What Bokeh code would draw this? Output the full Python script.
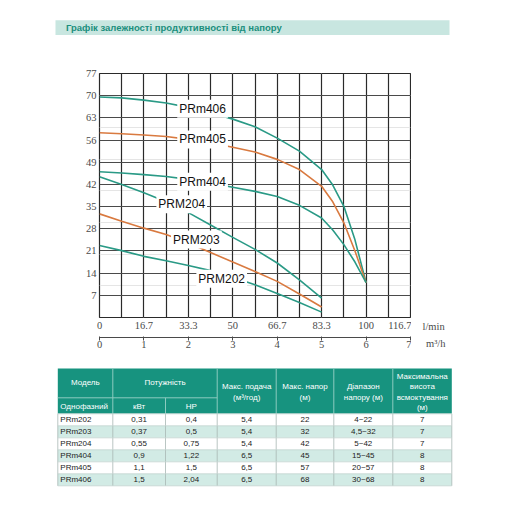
from bokeh.plotting import figure
from bokeh.layouts import column, row
from bokeh.models import Range1d, LinearAxis, FixedTicker, Grid, Label, ColumnDataSource
from bokeh.core.properties import value
from bokeh.embed import file_html
from bokeh.resources import INLINE

# ---------------- data ----------------
TITLE = "Графік залежності продуктивності від напору"

q_long = [0, 0.5, 1, 1.5, 2, 2.5, 3, 3.5, 4, 4.5, 5, 5.25, 5.5, 5.75, 6]
q_short = [0, 0.5, 1, 1.5, 2, 2.5, 3, 3.5, 4, 4.5, 5]

prm406_h = [69.6, 69.3, 68.6, 67.7, 66.3, 64.6, 62.6, 60.2, 56.6, 52.5, 46.7, 41.8, 35.1, 24.5, 11]
prm405_h = [58.3, 58.0, 57.6, 57.1, 56.2, 55.1, 53.7, 52.2, 49.9, 46.7, 41.4, 36.5, 29.9, 21.0, 11]
prm404_h = [46.0, 45.6, 45.1, 44.5, 43.6, 42.4, 41.1, 39.8, 38.2, 35.4, 31.4, 27.6, 23.0, 17.5, 11]
prm204_h = [44.4, 42.0, 39.4, 36.5, 33.1, 29.2, 25.3, 21.5, 17.2, 11.9, 6.1]
prm203_h = [32.7, 30.4, 28.2, 26.2, 23.5, 20.5, 17.5, 14.5, 11.4, 7.4, 3.3]
prm202_h = [22.7, 21.1, 19.3, 17.9, 16.4, 14.8, 12.7, 10.3, 7.6, 4.7, 1.7]

curve_names = ["PRm406", "PRm405", "PRm404", "PRM204", "PRM203", "PRM202"]
label_q = [1.75, 1.75, 1.75, 1.28, 1.61, 2.18]
label_h = [65.9, 56.2, 42.8, 35.7, 24.6, 12.2]

h_ticks = [7, 14, 21, 28, 35, 42, 49, 56, 63, 70, 77]
m3h_ticks = [0, 1, 2, 3, 4, 5, 6, 7]
lmin_labels = ["0", "16.7", "33.3", "50", "66.7", "83.3", "100", "116.7"]
unit_labels = ["l/min", "m³/h"]

# table
table_head = ["Модель", "Потужність", "Макс. подача", "Макс. напор", "Діапазон", "Максимальна"]
models = ["PRm202", "PRm203", "PRm204", "PRm404", "PRm405", "PRm406"]
power_kw = ["0,31", "0,37", "0,55", "0,9", "1,1", "1,5"]
power_hp = ["0,4", "0,5", "0,75", "1,22", "1,5", "2,04"]
max_flow = ["5,4", "5,4", "5,4", "6,5", "6,5", "6,5"]
max_head = ["22", "32", "42", "45", "57", "68"]
head_range = ["4~22", "4,5~32", "5~42", "15~45", "20~57", "30~68"]
suction = ["7", "7", "7", "8", "8", "8"]

# ---------------- styles ----------------
TEAL = "#2a9a86"
ORANGE = "#d97a40"
VGRID = "#2a2a2a"
HGRID = "#4a4a4a"
TICK_COLOR = "#4a4a4a"
SERIF = "Liberation Serif"
SANS = "Liberation Sans"
HEADER_BG = "#17937f"
TITLE_BG = "#c8e6e0"
ROW_ALT = "#d2ebe5"

W = 496
CHART_W = 404
CHART_H = 300


def blank(width, height):
    f = figure(width=width, height=height, x_range=Range1d(0, width), y_range=Range1d(height, 0),
               output_backend="svg", toolbar_location=None,
               x_axis_location=None, y_axis_location=None,
               min_border=0, outline_line_color=None)
    f.xgrid.visible = False
    f.ygrid.visible = False
    return f


# ---------------- title strip ----------------
pt = blank(W, 52)
pt.quad(left=[48], right=[442], top=[12.7], bottom=[27.5], fill_color=TITLE_BG, line_color=None)
pt.text(x=[58.5], y=[20.2], text=[TITLE], text_font=value(SANS), text_font_style="bold",
        text_font_size="9.5px", text_color="#1b8f7d", text_baseline="middle", text_align="left")

# ---------------- chart ----------------
p = figure(width=CHART_W, height=CHART_H, x_range=Range1d(0, 7), y_range=Range1d(0, 77),
           output_backend="svg", toolbar_location=None,
           x_axis_location=None, y_axis_location=None,
           min_border_left=92, min_border_right=1, min_border_top=14, min_border_bottom=42,
           outline_line_color=VGRID, outline_line_width=1.2)

p.add_layout(Grid(dimension=0, ticker=FixedTicker(ticks=[i * 0.5 for i in range(15)]),
                  grid_line_color=VGRID, grid_line_width=1.2))
p.add_layout(Grid(dimension=1, ticker=FixedTicker(ticks=h_ticks),
                  grid_line_color=HGRID, grid_line_width=1.2))

yax = LinearAxis(ticker=FixedTicker(ticks=h_ticks), axis_line_color=None,
                 major_tick_line_color=None, minor_tick_line_color=None,
                 major_tick_out=0, major_tick_in=0, minor_tick_out=0,
                 major_label_standoff=3, major_label_text_font=SERIF,
                 major_label_text_font_size="10.5px", major_label_text_color=TICK_COLOR)
p.add_layout(yax, "left")

xax1 = LinearAxis(ticker=FixedTicker(ticks=m3h_ticks),
                  major_label_overrides={t: s for t, s in zip(m3h_ticks, lmin_labels)},
                  axis_line_color=None, major_tick_line_color=None, minor_tick_line_color=None,
                  major_tick_out=0, major_tick_in=0, minor_tick_out=0, major_label_standoff=4,
                  major_label_text_font=SERIF, major_label_text_font_size="10.5px",
                  major_label_text_color=TICK_COLOR,
                  axis_label=" ", axis_label_standoff=0, axis_label_text_font_size="3px")
p.add_layout(xax1, "below")

xax2 = LinearAxis(ticker=FixedTicker(ticks=m3h_ticks), axis_line_color=TICK_COLOR,
                  major_tick_line_color=TICK_COLOR, minor_tick_line_color=None,
                  major_tick_out=3, major_tick_in=1, minor_tick_out=0, major_label_standoff=0,
                  major_label_text_font=SERIF, major_label_text_font_size="10.5px",
                  major_label_text_color=TICK_COLOR)
p.add_layout(xax2, "below")

series = [
    (q_long, prm406_h, TEAL),
    (q_long, prm405_h, ORANGE),
    (q_long, prm404_h, TEAL),
    (q_short, prm204_h, TEAL),
    (q_short, prm203_h, ORANGE),
    (q_short, prm202_h, TEAL),
]
for xs, ys, c in series:
    p.line(xs, ys, line_color=c, line_width=1.6)

lab_src = ColumnDataSource(dict(x=label_q, y=label_h, text=curve_names))
p.text(x="x", y="y", text="text", source=lab_src, text_font=value(SANS),
       text_font_size="12px", text_color="#111111", text_baseline="middle",
       text_align="left", background_fill_color="white", padding=2)

p.add_layout(Label(x=0, y=70, text="H(m)", x_offset=-47, text_font=SERIF,
                   text_font_size="10.5px", text_color=TICK_COLOR, text_baseline="middle"))

# unit captions to the right of the axes
pu = blank(W - CHART_W, CHART_H)
pu.text(x=[11.0, 14.5], y=[266.5, 284.0], text=unit_labels, text_font=value(SERIF),
        text_font_size="10.5px", text_color=TICK_COLOR, text_align="left", text_baseline="middle")

# ---------------- table ----------------
tb = blank(W, 136)

col_edges = [50.3, 105.3, 158.0, 209.7, 268.7, 326.3, 385.3, 444.3]
head_top, head_mid, head_bot = 9.0, 38.3, 54.3
row_h = 12.0
n = len(models)

tb.quad(left=[col_edges[0]], right=[col_edges[-1]], top=[head_top], bottom=[head_bot],
        fill_color=HEADER_BG, line_color=None)
row_tops = [head_bot + i * row_h for i in range(n)]
tb.quad(left=[col_edges[0]] * n, right=[col_edges[-1]] * n, top=row_tops,
        bottom=[t + row_h for t in row_tops],
        fill_color=["white" if i % 2 == 0 else ROW_ALT for i in range(n)], line_color=None)

# header separators
hsep_x = [col_edges[3], col_edges[4], col_edges[5], col_edges[6]]
tb.segment(x0=hsep_x, y0=[head_top] * 4, x1=hsep_x, y1=[head_bot] * 4,
           line_color="#8ccbbf", line_width=1)
tb.segment(x0=[col_edges[1], col_edges[0], col_edges[2]], y0=[head_top, head_mid, head_mid],
           x1=[col_edges[1], col_edges[3], col_edges[2]], y1=[head_bot, head_mid, head_bot],
           line_color="#8ccbbf", line_width=1)
# body grid
body_bot = head_bot + n * row_h
tb.segment(x0=col_edges, y0=[head_bot] * 8, x1=col_edges, y1=[body_bot] * 8,
           line_color="#a8b8b4", line_width=0.8)
tb.segment(x0=[col_edges[0]] * (n + 1), y0=[head_bot + i * row_h for i in range(n + 1)],
           x1=[col_edges[-1]] * (n + 1), y1=[head_bot + i * row_h for i in range(n + 1)],
           line_color="#c4d4d0", line_width=0.8)

centers = [(col_edges[i] + col_edges[i + 1]) / 2 for i in range(7)]
hx = [centers[0], (col_edges[1] + col_edges[3]) / 2, centers[3], centers[3], centers[4], centers[4],
      centers[5], centers[5], centers[6], centers[6], centers[6], centers[6], centers[1], centers[2]]
hy = [23.3, 23.3, 26.7, 38.3, 26.7, 38.3, 26.7, 38.3, 16.7, 27.4, 38.0, 47.5, 46.7, 46.7]
ht = [table_head[0], table_head[1], table_head[2], "(м³/год)", table_head[3], "(м)",
      table_head[4], "напору (м)", table_head[5], "висота", "всмоктування", "(м)", "кВт", "HP"]
tb.text(x=hx, y=hy, text=ht, text_font=value(SANS), text_font_size="8px", text_color="white",
        text_align="center", text_baseline="middle")
tb.text(x=[col_edges[0] + 2.5], y=[46.7], text=["Однофазний"], text_font=value(SANS),
        text_font_size="8px", text_color="white", text_align="left", text_baseline="middle")

row_y = [head_bot + (i + 0.5) * row_h for i in range(n)]
tb.text(x=[col_edges[0] + 2.5] * n, y=row_y, text=models, text_font=value(SANS),
        text_font_size="8px", text_color="#222222", text_align="left", text_baseline="middle")
for ci, vals in enumerate([power_kw, power_hp, max_flow, max_head, head_range, suction], start=1):
    tb.text(x=[centers[ci]] * n, y=row_y, text=vals, text_font=value(SANS),
            text_font_size="8px", text_color="#222222", text_align="center", text_baseline="middle")

for f in (pt, p, pu, tb):
    f.background_fill_color = "white"
    f.border_fill_color = "white"

layout = column(column(pt), row(column(p), column(pu), spacing=0), column(tb),
                spacing=0, margin=(7, 0, 0, 7))
open("out.html", "w").write(file_html(layout, INLINE))
